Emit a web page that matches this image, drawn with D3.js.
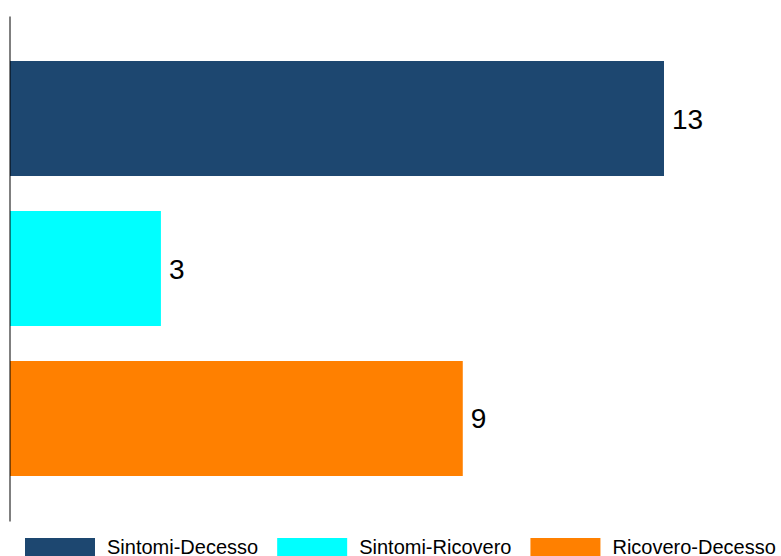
<!DOCTYPE html>
<html>
  <head>
    <title>Tempi medi</title>
    <style>
body {
  margin: 0px;
  overflow: hidden;
  background: #fff;
}
text {
  font-family: "Liberation Sans", Arial, sans-serif;
}
.value-label {
  font-size: 28px;
  fill: #000;
}
.legend text {
  font-size: 20px;
  fill: #000;
}
    </style>
    <script src="https://d3js.org/d3.v7.min.js"></script>
  </head>
  <body>
    <svg width="781" height="556"></svg>
    <script>

// data
const categories = ['Sintomi-Decesso', 'Sintomi-Ricovero', 'Ricovero-Decesso'];
const values = [13, 3, 9];
const colors = ['#1D4770', '#00FFFF', '#FF8000'];

const svg = d3.select('svg');
const width = +svg.attr('width');
const height = +svg.attr('height');

const data = categories.map((c, i) => ({ name: c, value: values[i], color: colors[i] }));

const xScale = d3.scaleLinear()
  .domain([0, 13])
  .range([10, 664]);

const yScale = d3.scaleBand()
  .domain(categories)
  .range([16, 521])
  .paddingInner(0.2333)
  .paddingOuter(0.3);

// bars
svg.selectAll('rect.bar').data(data)
  .enter().append('rect')
    .attr('class', 'bar')
    .attr('x', xScale(0))
    .attr('y', d => yScale(d.name))
    .attr('width', d => xScale(d.value) - xScale(0))
    .attr('height', yScale.bandwidth())
    .style('fill', d => d.color);

// value labels
svg.selectAll('text.value-label').data(data)
  .enter().append('text')
    .attr('class', 'value-label')
    .attr('x', d => xScale(d.value) + 8)
    .attr('y', d => yScale(d.name) + yScale.bandwidth() / 2 + 10)
    .text(d => d.value);

// vertical axis line
const yAxis = d3.axisLeft(yScale).tickSize(0).tickFormat('');
const yAxisG = svg.append('g')
  .attr('transform', 'translate(9.5,0)')
  .call(yAxis);
yAxisG.select('.domain').attr('stroke', '#000').attr('stroke-width', 1);

// legend
const legend = svg.append('g').attr('class', 'legend');
let lx = 25;
data.forEach(d => {
  const item = legend.append('g').attr('transform', `translate(${lx},538)`);
  item.append('rect')
    .attr('width', 70)
    .attr('height', 22)
    .style('fill', d.color);
  const t = item.append('text')
    .attr('x', 82)
    .attr('y', 16)
    .text(d.name);
  lx += 82 + t.node().getComputedTextLength() + 19;
});

    </script>
  </body>
</html>
